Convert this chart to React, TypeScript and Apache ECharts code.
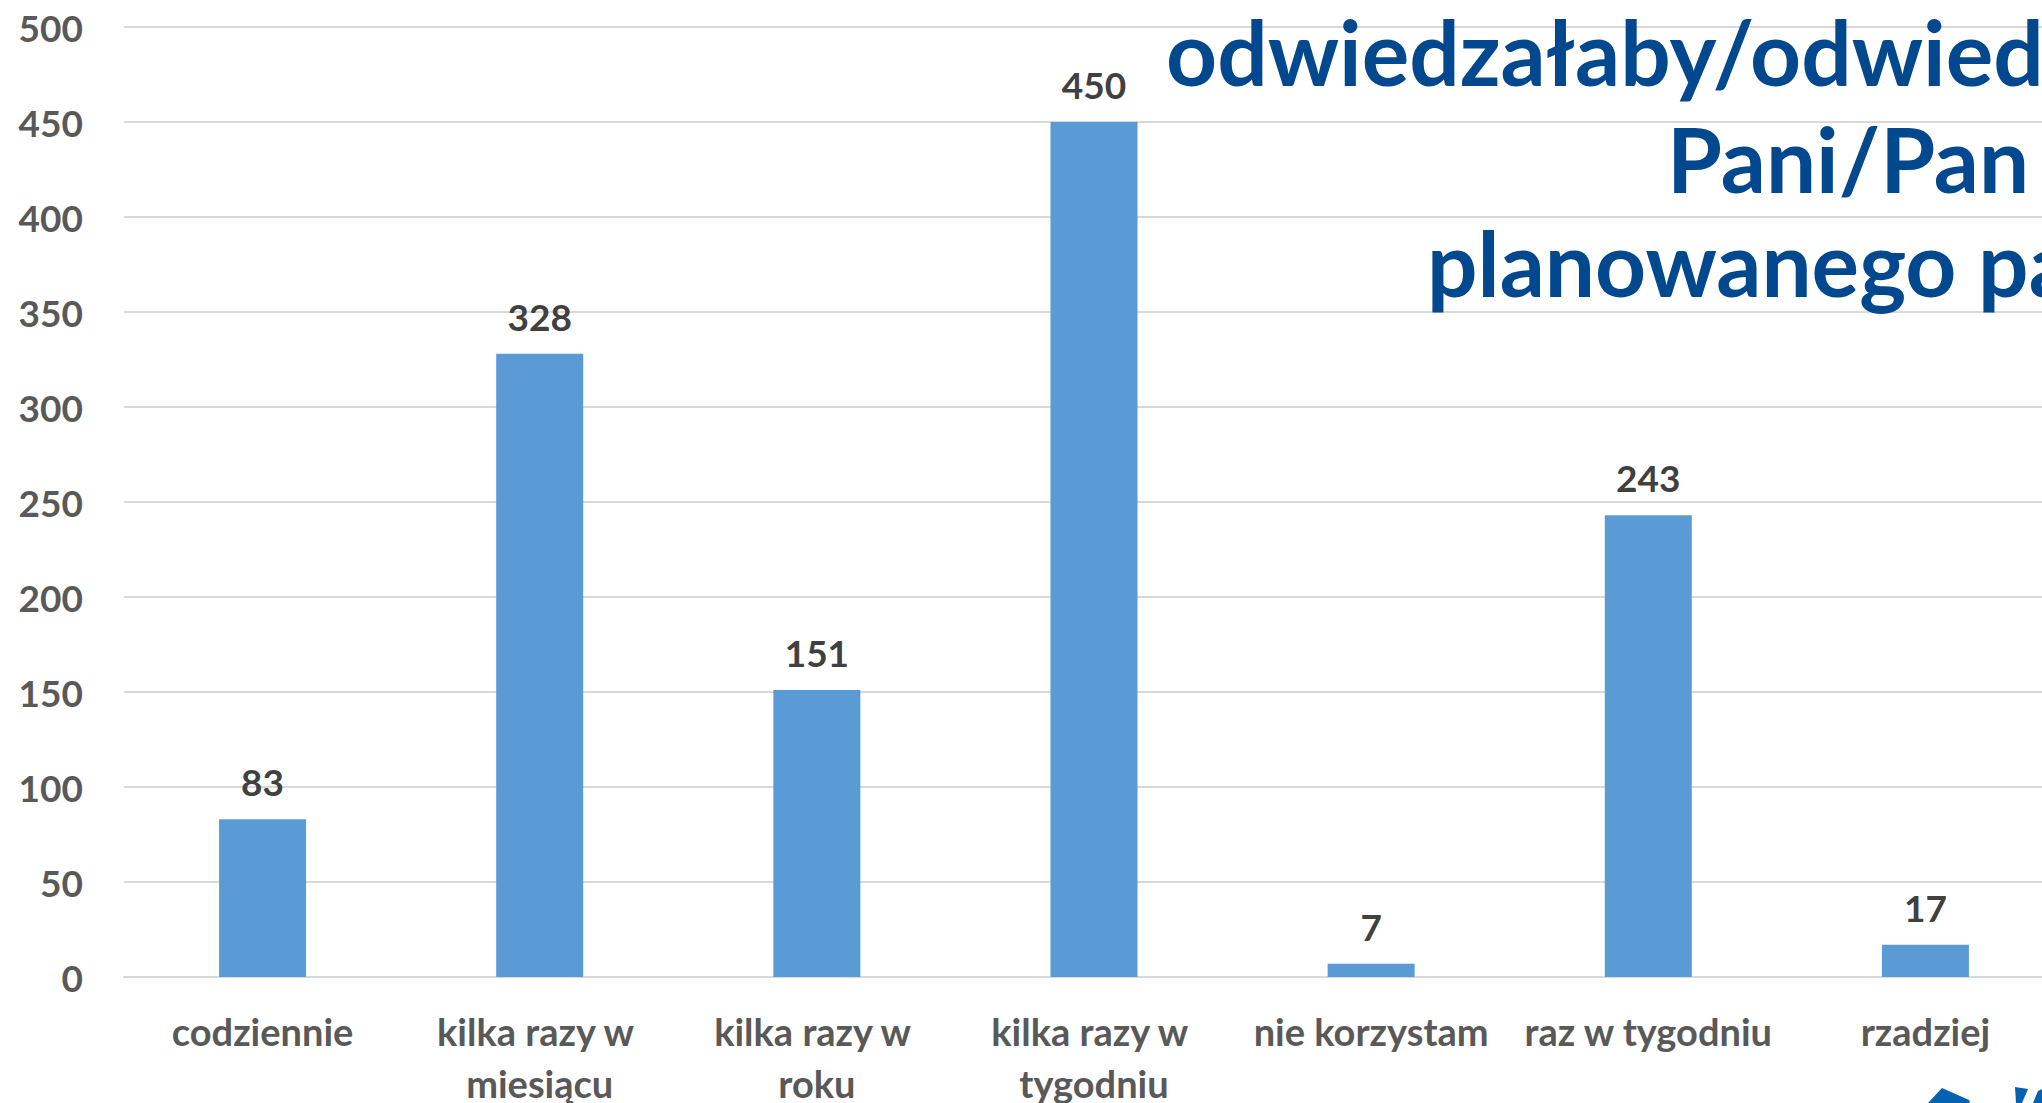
import React, { useEffect, useRef } from "react";
import * as echarts from "echarts";

const categories = [
  "codziennie",
  "kilka razy w miesiącu",
  "kilka razy w roku",
  "kilka razy w tygodniu",
  "nie korzystam",
  "raz w tygodniu",
  "rzadziej",
];
const values = [83, 328, 151, 450, 7, 243, 17];
const titleLines = ["odwiedzałaby/odwiedzałby", "Pani/Pan", "planowanego parku?"];

const FONT = "Lato, 'Noto Sans', sans-serif";

export default function App() {
  const ref = useRef<HTMLDivElement>(null);
  useEffect(() => {
    if (!ref.current) return;
    const chart = echarts.init(ref.current, null, { renderer: "svg" });
    const titleStyle = (text: string) => ({
      text,
      fill: "#02488E",
      font: `bold 89px ${FONT}`,
      align: "left",
      verticalAlign: "middle",
    });
    chart.setOption({
      animation: false,
      backgroundColor: "#ffffff",
      grid: {
        left: 124,
        top: 27,
        bottom: 126,
        right: 0,
        containLabel: false,
        outerBoundsMode: "none",
      },
      xAxis: {
        type: "category",
        data: categories,
        axisLine: { show: true, lineStyle: { color: "#D9D9D9", width: 2 } },
        axisTick: { show: false },
        axisLabel: {
          interval: 0,
          margin: 28,
          width: 268,
          overflow: "break",
          hideOverlap: false,
          color: "#595959",
          fontFamily: FONT,
          fontWeight: "bold",
          fontSize: 38,
          lineHeight: 52,
        },
      },
      yAxis: {
        type: "value",
        min: 0,
        max: 500,
        interval: 50,
        axisLine: { show: false },
        axisTick: { show: false },
        splitLine: { lineStyle: { color: "#D9D9D9", width: 2 } },
        axisLabel: {
          margin: 41,
          color: "#595959",
          fontFamily: FONT,
          fontWeight: "bold",
          fontSize: 37,
        },
      },
      series: [
        {
          type: "bar",
          data: values,
          barWidth: 87,
          itemStyle: { color: "#5B9BD5" },
          label: {
            show: true,
            position: "top",
            distance: 19,
            color: "#404040",
            fontFamily: FONT,
            fontWeight: "bold",
            fontSize: 37,
          },
        },
      ],
      graphic: [
        { type: "text", x: 1166, y: 51, z: 100, style: titleStyle(titleLines[0]) },
        { type: "text", x: 1667, y: 158, z: 100, style: titleStyle(titleLines[1]) },
        { type: "text", x: 1427, y: 262, z: 100, style: titleStyle(titleLines[2]) },
        {
          type: "polygon",
          z: 100,
          shape: { points: [[1928, 1103], [1942, 1088], [1969, 1100], [1970, 1103]] },
          style: { fill: "#0062B0" },
        },
        {
          type: "polygon",
          z: 100,
          shape: { points: [[2015, 1087], [2028, 1089], [2022, 1103], [2016, 1103]] },
          style: { fill: "#0062B0" },
        },
        {
          type: "polygon",
          z: 100,
          shape: { points: [[2038, 1091], [2042, 1089], [2042, 1103], [2033, 1103]] },
          style: { fill: "#0062B0" },
        },
      ],
    });
    return () => chart.dispose();
  }, []);
  return (
    <div
      style={{ position: "fixed", left: 0, top: 0, width: "2042px", height: "1103px", overflow: "hidden", background: "#fff" }}
    >
      <div ref={ref} style={{ width: "2064px", height: "1103px" }} />
    </div>
  );
}
